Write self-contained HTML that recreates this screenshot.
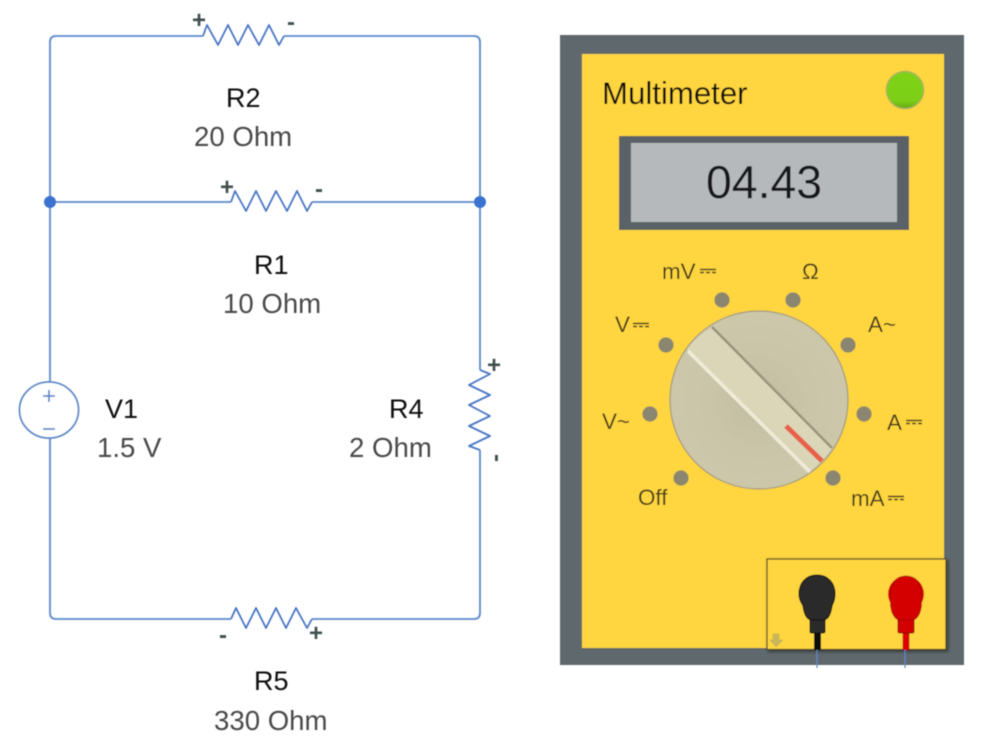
<!DOCTYPE html>
<html>
<head>
<meta charset="utf-8">
<style>
html,body{margin:0;padding:0;background:#fff}
svg{display:block}
text{font-family:"Liberation Sans",sans-serif}
</style>
</head>
<body>
<svg width="1000" height="746" viewBox="0 0 1000 746" xmlns="http://www.w3.org/2000/svg">
<defs>
<filter id="soft" x="-5%" y="-5%" width="110%" height="110%"><feGaussianBlur stdDeviation="0.45"/></filter>
<filter id="sh" x="-10%" y="-10%" width="120%" height="120%"><feDropShadow dx="1.5" dy="1.5" stdDeviation="1.5" flood-color="#000" flood-opacity=".5"/></filter>
<linearGradient id="led" x1="0" y1="0" x2="0" y2="1"><stop offset="0" stop-color="#7fd313"/><stop offset=".8" stop-color="#7bce12"/><stop offset="1" stop-color="#66a814"/></linearGradient>
<radialGradient id="dial" cx=".5" cy=".5" r=".6"><stop offset="0" stop-color="#c2bca1"/><stop offset=".45" stop-color="#cac4a8"/><stop offset="1" stop-color="#cec8ac"/></radialGradient>
</defs>
<g filter="url(#soft)">
<g fill="none" stroke="#5b88c9" stroke-width="1.8" stroke-linejoin="round">
<path d="M203 36H56Q50 36 50 42V613Q50 619 56 619H231"/>
<path d="M284 36H474Q480 36 480 42V370"/>
<path d="M480 450V613Q480 619 474 619H312"/>
<path d="M50 202H231M312 202H480"/>
<path stroke="#4a76c4" d="M203 36L207 25L218 45L228 25L238 45L248 25L259 45L269 25L279 45L284 36"/>
<path stroke="#4a76c4" d="M231 202L235 191L246 211L256 191L266 211L276 191L287 211L297 191L307 211L312 202"/>
<path stroke="#4a76c4" d="M231 619L236 608L246 628L256 608L266 628L276 608L286 628L296 608L307 628L312 619"/>
<path stroke="#4a76c4" d="M480 370L490 374L469 385L490 395L469 405L490 416L469 426L490 436L469 446L480 450"/>
<ellipse cx="49" cy="410" rx="29.5" ry="28" fill="#fff"/>
<path d="M43 396H55M49 390V402M43 429H55"/>
</g>
<circle cx="50" cy="202" r="6" fill="#3b71cf"/>
<circle cx="480" cy="202" r="6" fill="#3b71cf"/>
<g fill="#3f4f4f" font-size="24" font-weight="bold" text-anchor="middle">
<text x="199" y="28">+</text><text x="291" y="30">-</text>
<text x="227" y="195">+</text><text x="319" y="197">-</text>
<text x="494" y="373">+</text><text transform="rotate(90 497 458)" x="497" y="465">-</text>
<text x="223" y="643">-</text><text x="316" y="641">+</text>
</g>
<g font-size="27" fill="#0a0a0a">
<text x="226" y="107">R2</text>
<text x="254" y="274">R1</text>
<text x="105" y="418">V1</text>
<text x="389" y="418">R4</text>
<text x="254" y="690">R5</text>
</g>
<g font-size="27.6" fill="#4a4a4a">
<text x="194" y="146">20 Ohm</text>
<text x="223" y="313">10 Ohm</text>
<text x="97" y="457">1.5 V</text>
<text x="349" y="457">2 Ohm</text>
<text x="214" y="730">330 Ohm</text>
</g>
<rect x="560" y="35" width="404" height="630" fill="#5f686d"/>
<rect x="582" y="54" width="362" height="594" fill="#ffd53f"/>
<text x="602" y="104" font-size="31.200" fill="#0a0a0a">Multimeter</text>
<circle cx="905" cy="90" r="18.5" fill="url(#led)" stroke="#a5b25c" stroke-width="1.4"/>
<rect x="619" y="136" width="290" height="94" fill="#5a6268"/>
<rect x="631" y="143" width="266" height="79" fill="#b5b9bc"/>
<text x="706" y="198" font-size="46.400" fill="#14181c">04.43</text>
<circle cx="759" cy="400" r="89" fill="url(#dial)" stroke="#a09a7a" stroke-width="1.2"/>
<path d="M712 327A89 89 0 0 0 687 349L809 472A89 89 0 0 0 832 448Z" fill="#dcd6b8"/>
<path d="M712 327L832 448" stroke="#98937c" stroke-width="2.5" fill="none"/>
<path d="M688 351L810 472" stroke="#efebd8" stroke-width="3.500" fill="none"/>
<path d="M786 426L822 461" stroke="#e8604a" stroke-width="5" fill="none"/>
<g fill="#8a8670">
<circle cx="722" cy="300" r="7.6"/><circle cx="793" cy="300" r="7.6"/>
<circle cx="848" cy="345" r="7.6"/><circle cx="864" cy="414" r="7.6"/>
<circle cx="833" cy="478" r="7.6"/><circle cx="681" cy="478" r="7.6"/>
<circle cx="650" cy="414" r="7.6"/><circle cx="666" cy="345" r="7.6"/>
</g>
<g font-size="22.400" fill="#3f3a1c">
<text x="662" y="279">mV</text>
<text x="802" y="279">Ω</text>
<text x="615" y="332">V</text>
<text x="868" y="332">A~</text>
<text x="602" y="429">V~</text>
<text x="887" y="430">A</text>
<text x="638" y="505">Off</text>
<text x="851" y="506">mA</text>
</g>
<g stroke="#3f3a1c" fill="none" stroke-width="1.500">
<path d="M700 269.500h16"/><path d="M700 272.500h16" stroke-dasharray="4 2"/>
<path d="M633 323.500h16"/><path d="M633 326.500h16" stroke-dasharray="4 2"/>
<path d="M906 420.500h16"/><path d="M906 423.500h16" stroke-dasharray="4 2"/>
<path d="M888 496.500h16"/><path d="M888 499.500h16" stroke-dasharray="4 2"/>
</g>
<rect x="767" y="559" width="179" height="90.500" fill="#ffd53f" stroke="#47432a" stroke-width="1.2" filter="url(#sh)"/>
<path d="M773 634H779V640H783L776 647L770 640H773Z" fill="#c9b75a" stroke="#b5a552" stroke-width=".5"/>
<rect x="814" y="633" width="7" height="17" fill="#111"/>
<path d="M810 619V631Q810 633 812 633H823Q825 633 825 631V619Z" fill="#2a2a2a" stroke="#111"/>
<path d="M817 575C806 575 799 583 799 594C799 601 802 603 803 606C804 613 806 619 811 620H824C829 619 831 613 832 606C833 603 835 601 835 594C835 583 828 575 817 575Z" fill="#2a2a2a" stroke="#111"/>
<rect x="903" y="633" width="6" height="17" fill="#e00000" stroke="#900" stroke-width=".6"/>
<path d="M898 619V631Q898 633 900 633H912Q914 633 914 631V619Z" fill="#d40000" stroke="#800"/>
<circle cx="906" cy="594" r="18" fill="#d40000"/>
<path d="M906 576C896 576 891 583 891 594C891 601 890 605 891 608C892 614 895 619 899 620H913C917 619 920 614 921 608C922 605 921 601 921 594C921 583 916 576 906 576Z" fill="#d40000" stroke="#900" stroke-width=".8"/>
<path d="M817 650V668M905 650V668" stroke="#5b88c9" stroke-width="1.2"/>
</g>
</svg>
</body>
</html>
